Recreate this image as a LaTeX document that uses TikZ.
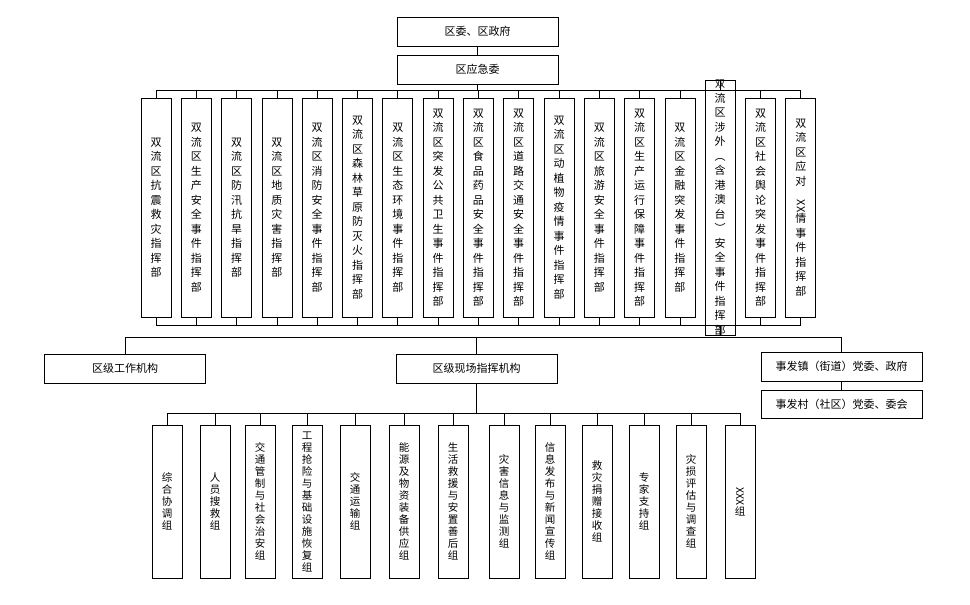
\documentclass[tikz,border=0pt]{standalone}
\usepackage{fontspec}
\usepackage{graphicx}
\setmainfont{Noto Sans CJK SC}
\newcommand\rotxx{\rotatebox{-90}{XX}}
\newcommand\rotxxx{\rotatebox{-90}{XXX}}
\begin{document}
\begin{tikzpicture}[x=1pt,y=-1pt,
  box/.style={draw,line width=0.8pt,inner sep=0pt,font=\fontsize{11}{13}\selectfont},
  col/.style={draw,line width=0.8pt,inner sep=0pt,minimum width=30pt,minimum height=219pt,align=center,font=\fontsize{11}{14.5}\selectfont},
  gcol/.style={draw,line width=0.8pt,inner sep=0pt,minimum width=30pt,minimum height=153pt,align=center,font=\fontsize{10.5}{12}\selectfont},
  ln/.style={line width=0.8pt}]
\useasboundingbox (0,0) rectangle (970,605);
\coordinate (tb) at (0,90);
\coordinate (bb) at (0,325);
\coordinate (gb) at (0,413);
\node[box,minimum width=161pt,minimum height=29pt] (zw) at (477.5,31.5) {区委、区政府};
\node[box,minimum width=161pt,minimum height=29pt] (yj) at (477.5,69.5) {区应急委};
\draw[ln] (zw.south) -- (yj.north);
\foreach \i/\txt in {
1/{双\\流\\区\\抗\\震\\救\\灾\\指\\挥\\部},
2/{双\\流\\区\\生\\产\\安\\全\\事\\件\\指\\挥\\部},
3/{双\\流\\区\\防\\汛\\抗\\旱\\指\\挥\\部},
4/{双\\流\\区\\地\\质\\灾\\害\\指\\挥\\部},
5/{双\\流\\区\\消\\防\\安\\全\\事\\件\\指\\挥\\部},
6/{双\\流\\区\\森\\林\\草\\原\\防\\灭\\火\\指\\挥\\部},
7/{双\\流\\区\\生\\态\\环\\境\\事\\件\\指\\挥\\部},
8/{双\\流\\区\\突\\发\\公\\共\\卫\\生\\事\\件\\指\\挥\\部},
9/{双\\流\\区\\食\\品\\药\\品\\安\\全\\事\\件\\指\\挥\\部},
10/{双\\流\\区\\道\\路\\交\\通\\安\\全\\事\\件\\指\\挥\\部},
11/{双\\流\\区\\动\\植\\物\\疫\\情\\事\\件\\指\\挥\\部},
12/{双\\流\\区\\旅\\游\\安\\全\\事\\件\\指\\挥\\部},
13/{双\\流\\区\\生\\产\\运\\行\\保\\障\\事\\件\\指\\挥\\部},
14/{双\\流\\区\\金\\融\\突\\发\\事\\件\\指\\挥\\部},
15/{\fontsize{10}{11.6}\selectfont 双\\流\\区\\涉\\外\\︵\\含\\港\\澳\\台\\︶\\安\\全\\事\\件\\指\\挥\\部},
16/{双\\流\\区\\社\\会\\舆\\论\\突\\发\\事\\件\\指\\挥\\部},
17/{双\\流\\区\\应\\对\\\rotxx\\情\\事\\件\\指\\挥\\部}}{
  \pgfmathsetmacro\cx{141+40.3*(\i-1)+15}
  \node[col] (c\i) at (\cx,207.5) {\txt};
  \draw[ln] (c\i.north) -- (c\i.north |- tb);
  \draw[ln] (c\i.south) -- (c\i.south |- bb);
}
\draw[ln] (c1.north |- tb) -- (c17.north |- tb);
\draw[ln] (c1.south |- bb) -- (c17.south |- bb);
\draw[ln] (yj.south) -- (yj.south |- tb);
% middle
\node[box,minimum width=161pt,minimum height=29pt] (gz) at (125,368.5) {区级工作机构};
\node[box,minimum width=161pt,minimum height=29pt] (xc) at (476.5,368.5) {区级现场指挥机构};
\node[box,minimum width=161pt,minimum height=29pt] (zh) at (841.5,366.5) {事发镇（街道）党委、政府};
\node[box,minimum width=161pt,minimum height=28pt] (cu) at (841.5,404) {事发村（社区）党委、委会};
\coordinate (m1) at (125,337);
\coordinate (m3) at (841.5,337);
\draw[ln] (gz.north) -- (m1) -- (m3) -- (zh.north);
\draw[ln] (xc.north) -- (xc.north |- m1);
\draw[ln] (zh.south) -- (cu.north);
% bottom groups
\foreach \i/\gx/\txt in {
1/152/{综\\合\\协\\调\\组},
2/200/{人\\员\\搜\\救\\组},
3/245/{交\\通\\管\\制\\与\\社\\会\\治\\安\\组},
4/292/{工\\程\\抢\\险\\与\\基\\础\\设\\施\\恢\\复\\组},
5/340/{交\\通\\运\\输\\组},
6/389/{能\\源\\及\\物\\资\\装\\备\\供\\应\\组},
7/438/{生\\活\\救\\援\\与\\安\\置\\善\\后\\组},
8/489/{灾\\害\\信\\息\\与\\监\\测\\组},
9/535/{信\\息\\发\\布\\与\\新\\闻\\宣\\传\\组},
10/582/{救\\灾\\捐\\赠\\接\\收\\组},
11/629/{专\\家\\支\\持\\组},
12/676/{灾\\损\\评\\估\\与\\调\\查\\组},
13/725/{\rotxxx\\组}}{
  \node[gcol] (g\i) at (\gx+15,501.5) {\txt};
  \draw[ln] (g\i.north) -- (g\i.north |- gb);
}
\draw[ln] (g1.north |- gb) -- (g13.north |- gb);
\draw[ln] (xc.south) -- (xc.south |- gb);
\end{tikzpicture}
\end{document}
